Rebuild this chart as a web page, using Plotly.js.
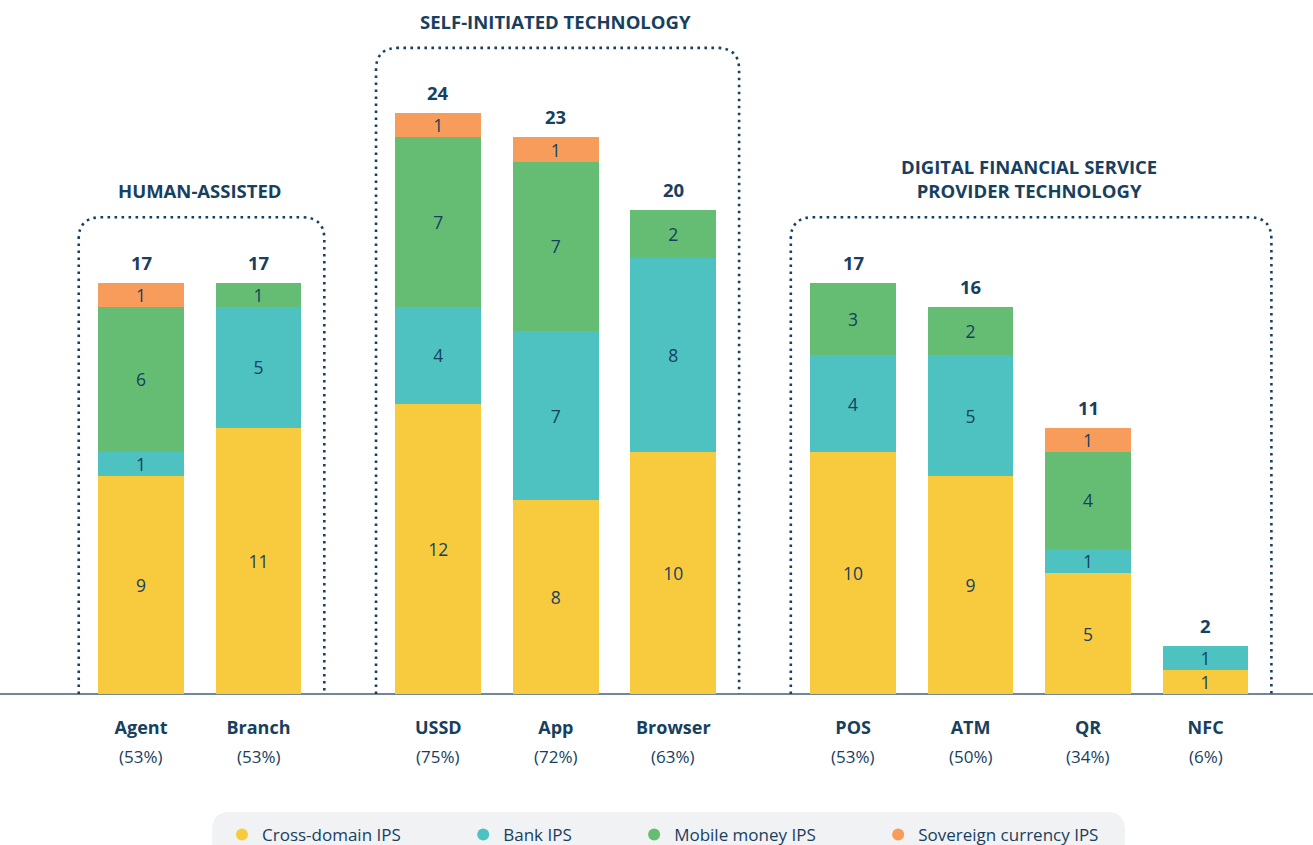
<!DOCTYPE html>
<html>
<head>
<meta charset="utf-8">
<script src="https://cdn.plot.ly/plotly-3.0.1.min.js"></script>
<style>html,body{margin:0;padding:0;background:#fff;}#chart{width:1313px;height:845px;}</style>
</head>
<body>
<div id="chart"></div>
<script>
// ---- data ----
const categories = ['Agent','Branch','USSD','App','Browser','POS','ATM','QR','NFC'];
const shares = ['53%','53%','75%','72%','63%','53%','50%','34%','6%'];
const groupNames = ['HUMAN-ASSISTED','SELF-INITIATED TECHNOLOGY','DIGITAL FINANCIAL SERVICE<br>PROVIDER TECHNOLOGY'];
const groupSizes = [2,3,4];
const crossDomain = [9,11,12,8,10,10,9,5,1];
const bankIPS     = [1,5,4,7,8,4,5,1,1];
const mobileMoney = [6,1,7,7,2,3,2,4,0];
const sovereign   = [1,0,1,1,0,0,0,1,0];
const seriesNames = ['Cross-domain IPS','Bank IPS','Mobile money IPS','Sovereign currency IPS'];
const seriesColors = ['#F8CB3F','#4DC2C1','#64BD72','#F79C5A'];

// ---- style ----
const NAVY = '#17405F';
const FONT = 'Open Sans, Noto Sans, sans-serif';
const GROUP_GAP = 0.53;

// positions from group structure
const xpos = [];
const groupRanges = [];
{
  let p = 0, idx = 0;
  groupSizes.forEach(n => {
    const start = idx;
    for (let i = 0; i < n; i++) { xpos.push(p); p += 1; idx++; }
    groupRanges.push([start, idx - 1]);
    p += GROUP_GAP;
  });
}
const allSeries = [crossDomain, bankIPS, mobileMoney, sovereign];
const totals = categories.map((_, i) => allSeries.reduce((s, a) => s + a[i], 0));

const traces = allSeries.map((vals, k) => ({
  type: 'bar',
  x: xpos,
  y: vals,
  name: seriesNames[k],
  width: 0.73,
  marker: {color: seriesColors[k], line: {width: 0}},
  text: vals.map(v => v ? String(v) : ''),
  textposition: 'inside',
  insidetextanchor: 'middle',
  textangle: 0,
  constraintext: 'none',
  textfont: {family: FONT, size: 17.5, color: NAVY},
  hoverinfo: 'skip',
  showlegend: false
}));
// legend entries with round symbols
seriesNames.forEach((nm, k) => {
  traces.push({
    type: 'scatter', mode: 'markers', x: [null], y: [null],
    name: nm + '\u00A0'.repeat(13),
    marker: {color: seriesColors[k], size: 12, symbol: 'circle'},
    showlegend: true, hoverinfo: 'skip'
  });
});

const annotations = [];
// totals
totals.forEach((t, i) => annotations.push({
  x: xpos[i], y: t, xref: 'x', yref: 'y', text: '<b>' + t + '</b>',
  showarrow: false, yanchor: 'bottom', yshift: 6,
  font: {family: FONT, size: 18.5, color: NAVY}
}));
// percentages under category labels
shares.forEach((s, i) => annotations.push({
  x: xpos[i], y: 0, xref: 'x', yref: 'y', text: '(' + s + ')',
  showarrow: false, yanchor: 'middle', yshift: -62,
  font: {family: FONT, size: 17, color: NAVY}
}));

const shapes = [];
const RX = 0.19, RY = 0.9;
const PAD_L = 0.53, PAD_R = 0.56;
groupRanges.forEach(([a, b], g) => {
  const x0 = xpos[a] - PAD_L, x1 = xpos[b] + PAD_R;
  let mx = 0; for (let i = a; i <= b; i++) mx = Math.max(mx, totals[i]);
  const top = mx + 2.7;
  shapes.push({
    type: 'path', xref: 'x', yref: 'y', layer: 'above',
    path: `M ${x0},0 L ${x0},${top - RY} Q ${x0},${top} ${x0 + RX},${top} L ${x1 - RX},${top} Q ${x1},${top} ${x1},${top - RY} L ${x1},0`,
    line: {color: NAVY, width: 2.6, dash: '2.6px,4.4px'}
  });
  annotations.push({
    x: (xpos[a] + xpos[b]) / 2, y: top, xref: 'x', yref: 'y',
    text: '<b>' + groupNames[g] + '</b>', showarrow: false,
    yanchor: 'bottom', yshift: 12,
    font: {family: FONT, size: 18.5, color: NAVY}
  });
});

// legend background (rounded, pixel-based -> paper)
const W = 1313, H = 845, ML = 0, MR = 0, MT = 20, MB = 151;
const PW = W - ML - MR, PH = H - MT - MB;
const px2x = p => (p - ML) / PW;
const py2y = p => (H - MB - p) / PH;
{
  const l = 212, r = 1125, t = 812, b = 852, rad = 18;
  const X = px2x, Y = py2y;
  shapes.push({
    type: 'path', xref: 'paper', yref: 'paper', layer: 'below',
    path: `M ${X(l+rad)},${Y(t)} L ${X(r-rad)},${Y(t)} Q ${X(r)},${Y(t)} ${X(r)},${Y(t+rad)} L ${X(r)},${Y(b)} L ${X(l)},${Y(b)} L ${X(l)},${Y(t+rad)} Q ${X(l)},${Y(t)} ${X(l+rad)},${Y(t)} Z`,
    fillcolor: '#F1F2F4', line: {width: 0}
  });
}

const layout = {
  width: W, height: H,
  margin: {l: ML, r: MR, t: MT, b: MB, autoexpand: false},
  paper_bgcolor: '#ffffff', plot_bgcolor: '#ffffff',
  barmode: 'stack',
  showlegend: true,
  legend: {
    orientation: 'h', x: px2x(222), xanchor: 'left', y: py2y(835), yanchor: 'middle',
    bgcolor: 'rgba(0,0,0,0)', font: {family: FONT, size: 17, color: NAVY},
    traceorder: 'normal'
  },
  xaxis: {
    range: [-1.2, 9.974], showgrid: false, zeroline: false,
    showline: false,
    tickvals: xpos, ticktext: categories.map(c => '<b>' + c + '</b>'),
    tickfont: {family: FONT, size: 18, color: NAVY},
    ticks: '', ticklabelstandoff: 21, fixedrange: true
  },
  yaxis: {
    range: [0, PH / 24.2], showgrid: false, zeroline: true, zerolinecolor: '#6F8797', zerolinewidth: 1.5,
    showticklabels: false, ticks: '', showline: false, fixedrange: true
  },
  annotations: annotations,
  shapes: shapes,
  font: {family: FONT, color: NAVY}
};

Plotly.newPlot('chart', traces, layout, {displayModeBar: false, staticPlot: true});
</script>
</body>
</html>
